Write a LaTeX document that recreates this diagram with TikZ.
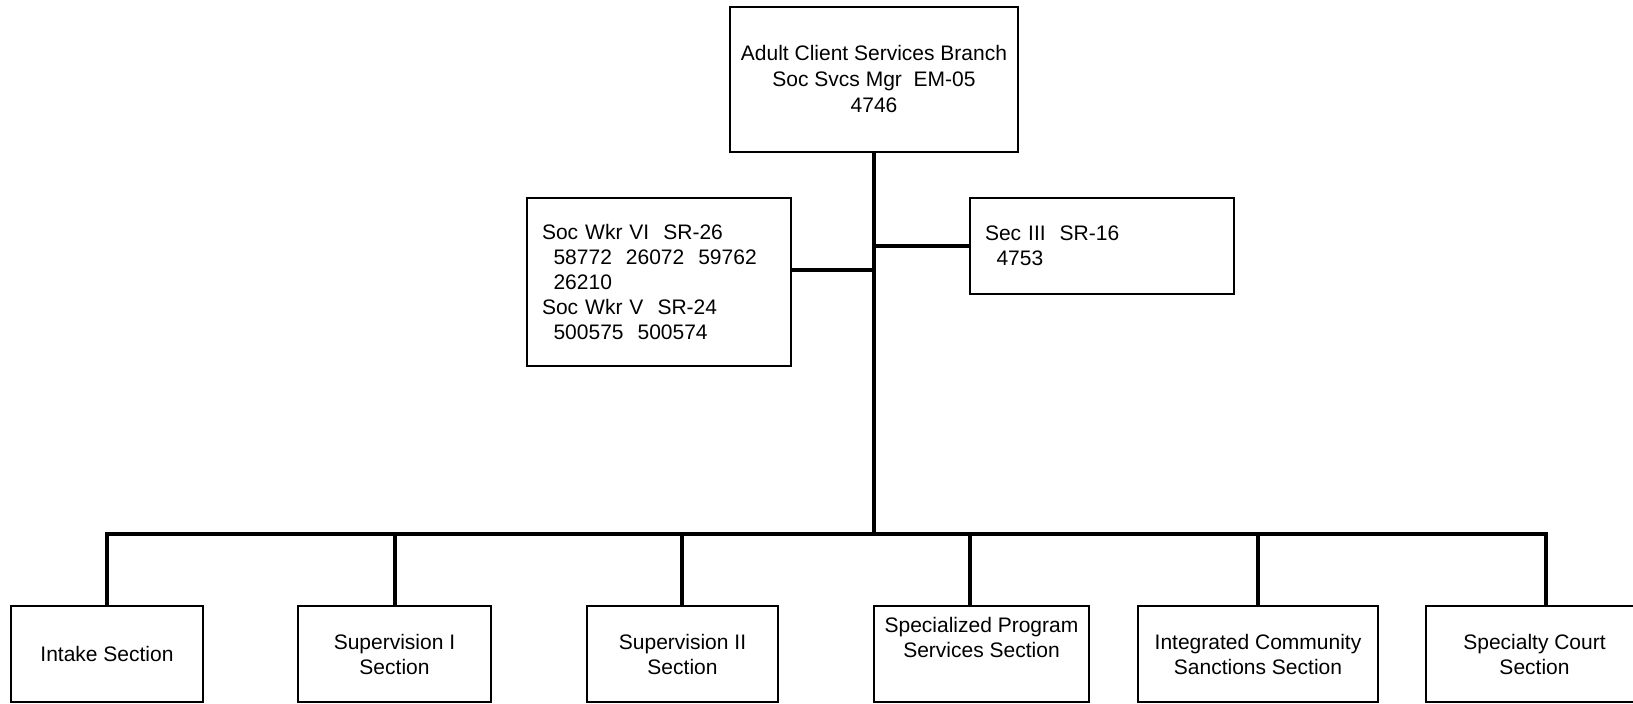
\documentclass[tikz,border=0pt]{standalone}
\usepackage{fontspec}
\setmainfont{Liberation Sans}
\usepackage{tikz}
\usetikzlibrary{positioning}

\begin{document}
\begin{tikzpicture}[x=0.5pt, y=-0.5pt,
    box/.style={draw, line width=0.8pt, inner sep=0pt, align=center,
      font=\fontsize{10.5}{12.5}\selectfont},
    leftbox/.style={box, align=left, inner xsep=7.5pt, text width=117pt},
    section/.style={box, minimum height=48pt},
    link/.style={line width=2pt}]
  \useasboundingbox (0,0) rectangle (1633,704);
  \clip (0,0) rectangle (1633,704);

  % branch head
  \node[box, minimum width=144pt, minimum height=72.5pt,
    font=\fontsize{10.5}{13}\selectfont] (branch) at (874,79.5)
    {Adult Client Services Branch\\Soc Svcs Mgr~~EM-05\\4746};

  % staff attached to the branch
  \node[leftbox, minimum height=84pt] (socwkr) at (659,282)
    {Soc Wkr VI~~SR-26\\\hspace*{0.55em}58772~~26072~~59762\\\hspace*{0.55em}26210\\
     Soc Wkr V~~SR-24\\\hspace*{0.55em}500575~~500574};
  \node[leftbox, minimum height=48pt] (secIII) at (1102,246)
    {Sec III~~SR-16\\\hspace*{0.55em}4753};

  % sections
  \node[section, minimum width=96pt]    (intake) at (107,654)    {Intake Section};
  \node[section, minimum width=96.5pt]  (supI)   at (394.5,654)  {Supervision I\\Section};
  \node[section, minimum width=95.5pt]  (supII)  at (682.5,654)  {Supervision II\\Section};
  \node[section, minimum width=107.5pt] (spec)   at (981.5,654)  {Specialized Program\\Services Section\\\strut};
  \node[section, minimum width=120pt]   (ics)    at (1258,654)   {Integrated Community\\Sanctions Section};
  \node[section, minimum width=108.5pt] (court)  at (1534.5,654) {Specialty Court\\Section};

  % connectors
  \coordinate (sw) at ([yshift=6pt]socwkr.east);
  \draw[link] (branch.south) -- (branch.south |- 0,534);
  \draw[link] (sw) -- (sw -| branch.south);
  \draw[link] (secIII.west -| branch.south) -- (secIII.west);

  \coordinate (busL) at (107,534);
  \coordinate (busR) at (1546,534);
  \draw[link, line join=miter] (busL |- intake.north) -- (busL) -- (busR) -- (busR |- court.north);
  \foreach \n/\sx in {supI/395, supII/682, spec/970, ics/1258}
    \draw[link] (\sx,534) -- (\sx,534 |- \n.north);
\end{tikzpicture}
\end{document}
